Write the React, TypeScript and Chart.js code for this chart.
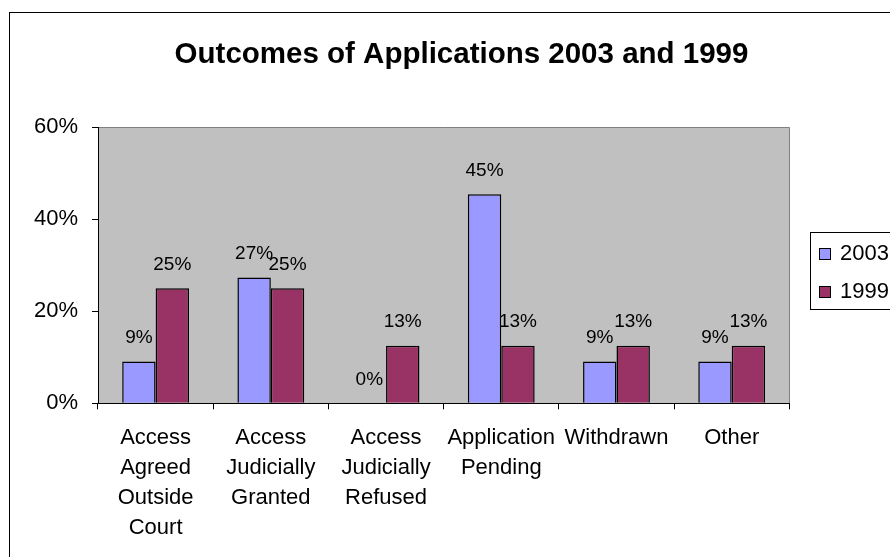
import React, { useEffect, useRef } from "react";
import { Chart, registerables } from "chart.js";

Chart.register(...registerables);

const chartTitle = "Outcomes of Applications 2003 and 1999";
const categories: string[][] = [
  ["Access", "Agreed", "Outside", "Court"],
  ["Access", "Judicially", "Granted"],
  ["Access", "Judicially", "Refused"],
  ["Application", "Pending"],
  ["Withdrawn"],
  ["Other"],
];
const seriesNames = ["2003", "1999"];
const values2003 = [9.1, 27.3, 0, 45.4, 9.1, 9.1];
const values1999 = [25, 25, 12.5, 12.5, 12.5, 12.5];
const yTickValues = [0, 20, 40, 60];

const colors = ["#9999FF", "#993366"];
const FONT = "'Liberation Sans', Arial, Helvetica, sans-serif";

export default function App() {
  const ref = useRef<HTMLCanvasElement | null>(null);

  useEffect(() => {
    const canvas = ref.current;
    if (!canvas) return;

    const decor = {
      id: "decor",
      beforeDraw(chart: any) {
        const { ctx, chartArea: a } = chart;
        ctx.save();
        ctx.fillStyle = "#FFFFFF";
        ctx.fillRect(0, 0, chart.width, chart.height);
        ctx.fillStyle = "#C0C0C0";
        ctx.fillRect(a.left, a.top, a.right - a.left, a.bottom - a.top);
        ctx.strokeStyle = "#808080";
        ctx.lineWidth = 1;
        ctx.beginPath();
        ctx.moveTo(a.left, Math.round(a.top) + 0.5);
        ctx.lineTo(Math.round(a.right) + 0.5, Math.round(a.top) + 0.5);
        ctx.lineTo(Math.round(a.right) + 0.5, a.bottom);
        ctx.stroke();
        ctx.restore();
      },
      afterDatasetsDraw(chart: any) {
        const { ctx } = chart;
        ctx.save();
        ctx.font = `19px ${FONT}`;
        ctx.fillStyle = "#000";
        ctx.textAlign = "center";
        ctx.textBaseline = "alphabetic";
        chart.data.datasets.forEach((ds: any, i: number) => {
          const meta = chart.getDatasetMeta(i);
          meta.data.forEach((bar: any, j: number) => {
            const v = ds.data[j];
            ctx.fillText(Math.round(v) + "%", bar.x, bar.y - 18.5);
          });
        });
        ctx.restore();
      },
      afterDraw(chart: any) {
        const { ctx } = chart;
        ctx.save();
        // title
        ctx.font = `bold 29.5px ${FONT}`;
        ctx.fillStyle = "#000";
        ctx.textAlign = "center";
        ctx.textBaseline = "middle";
        ctx.fillText(chartTitle, 461.5, 55);
        // outer border
        ctx.strokeStyle = "#000";
        ctx.lineWidth = 1;
        ctx.strokeRect(9.5, 12.5, 1000, 1000);
        // legend
        ctx.fillStyle = "#FFFFFF";
        ctx.fillRect(810.5, 232.5, 200, 77);
        ctx.strokeRect(810.5, 232.5, 200, 77);
        ctx.font = `22px ${FONT}`;
        ctx.textAlign = "left";
        ctx.textBaseline = "alphabetic";
        seriesNames.forEach((name, i) => {
          const y = 248 + i * 38;
          ctx.fillStyle = colors[i];
          ctx.fillRect(819.5, y + 0.5, 11, 11);
          ctx.strokeStyle = "#000";
          ctx.strokeRect(819.5, y + 0.5, 11, 11);
          ctx.fillStyle = "#000";
          ctx.fillText(name, 840, y + 11.5);
        });
        ctx.restore();
      },
    };

    const chart = new Chart(canvas, {
      type: "bar",
      data: {
        labels: categories,
        datasets: [
          {
            label: seriesNames[0],
            data: values2003,
            backgroundColor: colors[0],
            borderColor: "#000",
            borderWidth: 1.5,
            categoryPercentage: 0.58,
            barPercentage: 1,
          },
          {
            label: seriesNames[1],
            data: values1999,
            backgroundColor: colors[1],
            borderColor: "#000",
            borderWidth: 1.5,
            categoryPercentage: 0.58,
            barPercentage: 1,
          },
        ],
      },
      options: {
        animation: false,
        responsive: false,
        devicePixelRatio: 1,
        layout: { padding: { left: 0, top: 127, right: 100.7, bottom: 0 } },
        plugins: {
          legend: { display: false },
          title: { display: false },
          tooltip: { enabled: false },
        },
        scales: {
          x: {
            offset: true,
            afterFit(scale: any) {
              scale.height = 557 - 403.3;
            },
            grid: {
              offset: true,
              drawOnChartArea: false,
              drawTicks: true,
              tickLength: 6,
              color: "#000",
              lineWidth: 1,
            },
            border: { display: true, color: "#000", width: 1 },
            ticks: {
              color: "#000",
              font: { family: FONT, size: 22, lineHeight: 1.36 },
              padding: 14,
              maxRotation: 0,
              minRotation: 0,
              autoSkip: false,
            },
          },
          y: {
            min: 0,
            max: 60,
            afterFit(scale: any) {
              scale.width = 98;
            },
            afterBuildTicks(scale: any) {
              scale.ticks = yTickValues.map((v) => ({ value: v }));
            },
            grid: {
              drawOnChartArea: false,
              drawTicks: true,
              tickLength: 6,
              color: "#000",
              lineWidth: 1,
            },
            border: { display: true, color: "#000", width: 1 },
            ticks: {
              color: "#000",
              font: { family: FONT, size: 22 },
              padding: 14,
              callback: (v: any) => v + "%",
            },
          },
        },
      },
      plugins: [decor],
    });

    return () => chart.destroy();
  }, []);

  return (
    <div style={{ position: "absolute", left: 0, top: 0, width: 890, height: 557 }}>
      <canvas ref={ref} width={890} height={557} style={{ display: "block", width: 890, height: 557 }} />
    </div>
  );
}
